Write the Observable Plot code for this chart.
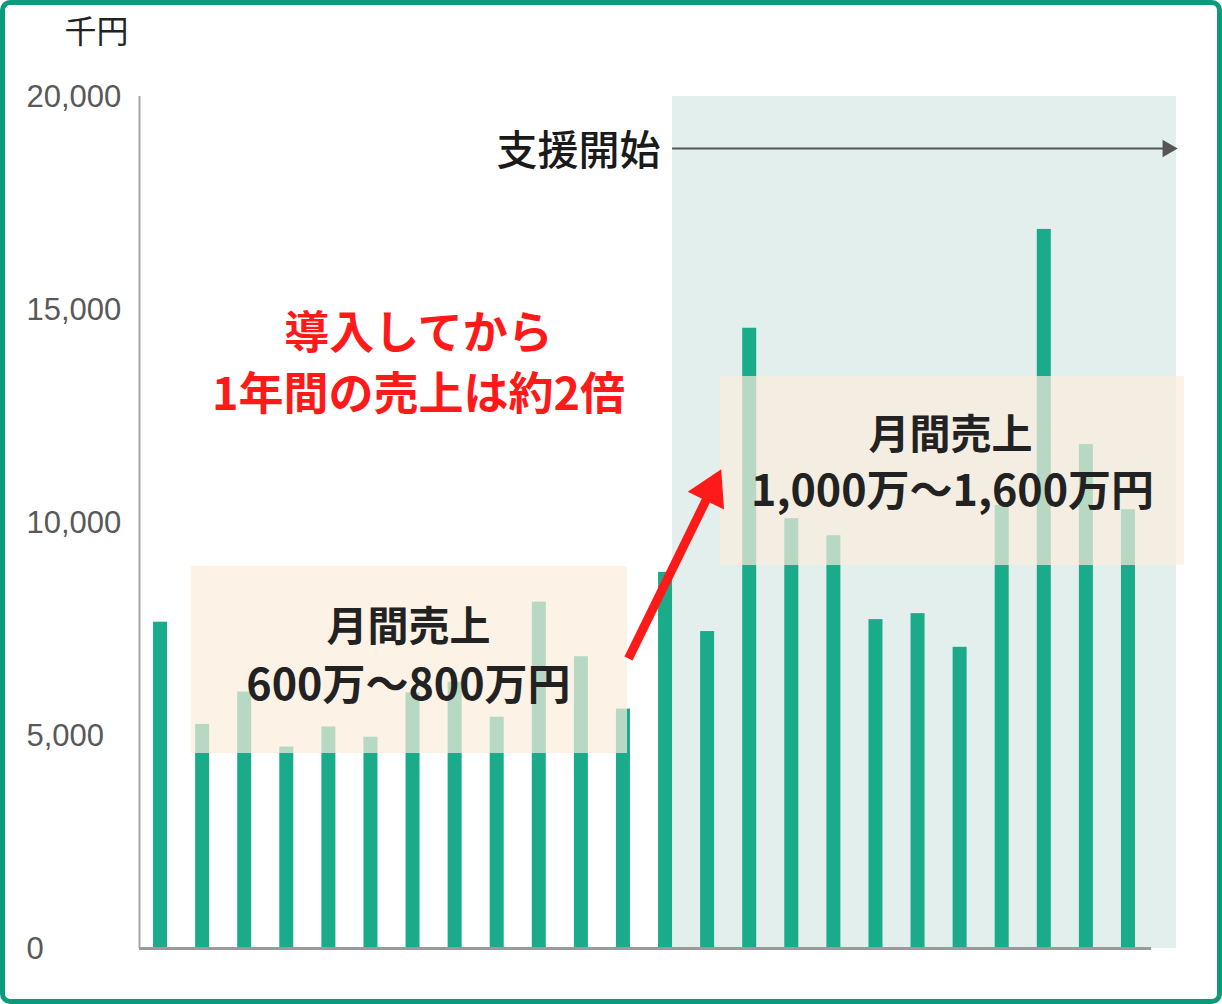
<!DOCTYPE html>
<html>
<head>
<meta charset="utf-8">
<script src="https://cdn.jsdelivr.net/npm/d3@7"></script>
<script src="https://cdn.jsdelivr.net/npm/@observablehq/plot@0.6"></script>
<style>
  html, body { margin: 0; padding: 0; background: #fff; }
  #wrap { position: relative; width: 1222px; height: 1004px; overflow: hidden; }
  #border { position: absolute; left: 0; top: 0; width: 1222px; height: 1004px; box-sizing: border-box;
            border: 5px solid #0b9b7c; border-radius: 10px; pointer-events: none; }
  svg { display: block; }
</style>
</head>
<body>
<div id="wrap"><div id="chart"></div><div id="border"></div></div>
<script>
// Monthly sales (千円), 24 months
const months = d3.range(1, 25);
const sales = [7660, 5260, 6020, 4730, 5200, 4960, 6000, 6250, 5430, 8130, 6850, 5620,
               8830, 7440, 14560, 10090, 9690, 7720, 7860, 7070, 10400, 16880, 11830, 10300];
const yTicks = [0, 5000, 10000, 15000, 20000];
const unitLabel = "千円";
const supportLabel = "支援開始";
const redLines = ["導入してから", "1年間の売上は約2倍"];
const box1Lines = ["月間売上", "600万～800万円"];
const box2Lines = ["月間売上", "1,000万～1,600万円"];

const data = months.map((m, i) => ({month: m, value: sales[i]}));
const half = 0.1663;
const jp = "'Noto Sans CJK JP', 'Noto Sans', sans-serif";

const chart = Plot.plot({
  width: 1222,
  height: 1004,
  marginLeft: 139,
  marginTop: 96,
  marginBottom: 56,
  marginRight: 73,
  style: {fontFamily: jp, background: "transparent", overflow: "visible"},
  x: {type: "linear", domain: [0.5, 24.5], range: [139, 1149], axis: null},
  y: {domain: [0, 20000], range: [948, 96], axis: null},
  marks: [
    // support period shading
    Plot.rect([{x1: 13.167, x2: 25.14, y1: 0, y2: 20000}], {x1: "x1", x2: "x2", y1: "y1", y2: "y2", fill: "#e3efed"}),
    // bars
    Plot.rectY(data, {x1: d => d.month - half, x2: d => d.month + half, y1: 0, y2: "value", fill: "#1aab8b"}),
    // peach boxes
    Plot.rect([{x1: 1.736, x2: 12.096, y1: 4577, y2: 8967}, {x1: 14.306, x2: 25.33, y1: 8990, y2: 13427}],
      {x1: "x1", x2: "x2", y1: "y1", y2: "y2", fill: "#fbecdb", fillOpacity: 0.7}),
    // axes lines
    Plot.ruleX([0.5], {y1: 0, y2: 20000, stroke: "#a6a6a6", strokeWidth: 2}),
    Plot.ruleY([0], {x1: 0.5, x2: 24.55, stroke: "#9a9a9a", strokeWidth: 3}),
    // y axis tick labels
    Plot.axisY(yTicks, {anchor: "left", tickSize: 0, tickPadding: 0, textAnchor: "start", dx: -113, dy: 1,
      tickFormat: d3.format(","), fontSize: 31, fill: "#595959", fontFamily: "'Liberation Sans', Arial, sans-serif"}),
    // unit label
    Plot.text([unitLabel], {x: -0.52, y: 21502, fontSize: 32, fill: "#222", fontFamily: jp}),
    // support start arrow
    Plot.text([supportLabel], {x: 12.88, y: 18709, textAnchor: "end", fontSize: 41, fontWeight: 500, fill: "#1a1a1a"}),
    Plot.ruleY([18779], {x1: 13.167, x2: 24.95, stroke: "#555", strokeWidth: 2}),
    Plot.dot([{x: 24.93, y: 18779}], {x: "x", y: "y", symbol: "triangle", r: 6.5, rotate: 90, fill: "#555", stroke: "none"}),
    // red headline
    Plot.text([redLines[0]], {x: 7.13, y: 14420, fontSize: 45, fontWeight: "bold", fill: "#ff1a1a"}),
    Plot.text([redLines[1]], {x: 7.13, y: 12990, fontSize: 45, fontWeight: "bold", fill: "#ff1a1a"}),
    // box texts
    Plot.text([box1Lines[0]], {x: 6.89, y: 7535, fontSize: 41, fontWeight: "bold", fill: "#222"}),
    Plot.text([box1Lines[1]], {x: 6.89, y: 6150, fontSize: 43, fontWeight: "bold", fill: "#222"}),
    Plot.text([box2Lines[0]], {x: 19.77, y: 12042, fontSize: 41, fontWeight: "bold", fill: "#222"}),
    Plot.text([box2Lines[1]], {x: 19.82, y: 10704, fontSize: 43, fontWeight: "bold", fill: "#222"}),
    // red arrow
    Plot.link([{x1: 12.12, y1: 6808, x2: 14.05, y2: 10700}], {x1: "x1", y1: "y1", x2: "x2", y2: "y2", stroke: "#ff1a1a", strokeWidth: 9}),
    Plot.dot([{x: 14.08, y: 10760}], {x: "x", y: "y", symbol: "triangle", r: 15, rotate: 26, fill: "#ff1a1a", stroke: "none"})
  ]
});
document.getElementById("chart").appendChild(chart);
</script>
</body>
</html>
